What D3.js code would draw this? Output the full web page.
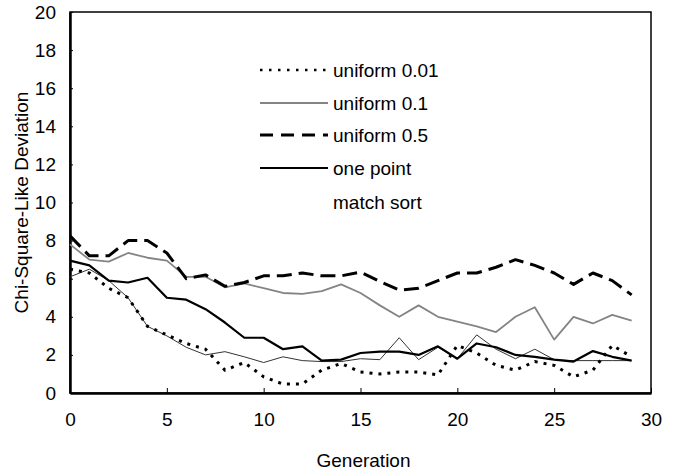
<!DOCTYPE html>
<html>
<head>
<meta charset="utf-8">
<script src="https://cdn.jsdelivr.net/npm/d3@7"></script>
<style>
  html, body { margin: 0; padding: 0; background: #fff; }
  svg { display: block; font-family: "Liberation Sans", Arial, sans-serif; }
</style>
</head>
<body>
<div id="chart"></div>
<script>
const generations = d3.range(0, 30);

const uniform001 = [6.5, 6.3, 5.5, 5.0, 3.5, 3.05, 2.6, 2.3, 1.2, 1.6, 0.85, 0.47, 0.47, 1.2, 1.55,
  1.1, 1.0, 1.1, 1.1, 0.95, 2.5, 2.1, 1.45, 1.2, 1.65, 1.45, 0.85, 1.2, 2.5, 1.9];
const uniform01 = [7.8, 7.0, 6.9, 7.35, 7.1, 6.95, 6.1, 6.1, 5.55, 5.75, 5.5, 5.25, 5.2, 5.35, 5.7,
  5.25, 4.6, 4.0, 4.6, 4.0, 3.75, 3.5, 3.2, 4.0, 4.5, 2.8, 4.0, 3.65, 4.1, 3.8];
const uniform05 = [8.25, 7.2, 7.2, 8.0, 8.0, 7.35, 6.0, 6.2, 5.6, 5.8, 6.15, 6.15, 6.3, 6.15, 6.15,
  6.35, 5.85, 5.4, 5.5, 5.9, 6.3, 6.3, 6.6, 7.0, 6.7, 6.3, 5.7, 6.3, 5.9, 5.15];
const onePoint = [6.95, 6.7, 5.9, 5.8, 6.05, 5.0, 4.9, 4.4, 3.7, 2.9, 2.9, 2.3, 2.45, 1.7, 1.75,
  2.1, 2.17, 2.17, 2.0, 2.45, 1.8, 2.6, 2.4, 2.0, 1.9, 1.75, 1.65, 2.2, 1.9, 1.7];
const matchSort = [6.1, 6.5, 5.9, 5.0, 3.5, 3.0, 2.4, 2.0, 2.17, 1.9, 1.6, 1.9, 1.7, 1.65, 1.65,
  1.8, 1.75, 2.9, 1.75, 2.4, 1.8, 3.05, 2.3, 1.8, 2.3, 1.75, 1.7, 1.7, 1.7, 1.7];

const xTicks = [0, 5, 10, 15, 20, 25, 30];
const yTicks = [0, 2, 4, 6, 8, 10, 12, 14, 16, 18, 20];

const series = [
  { name: 'uniform 0.01', values: uniform001, stroke: '#000', width: 3, dash: '3,6', legendDash: '2.5,6.5', legendWidth: 2.5 },
  { name: 'uniform 0.1', values: uniform01, stroke: '#848484', width: 1.8, dash: null, legendDash: null },
  { name: 'uniform 0.5', values: uniform05, stroke: '#000', width: 3, dash: '15,7', legendDash: '13,8' },
  { name: 'one point', values: onePoint, stroke: '#000', width: 2.2, dash: null, legendDash: null },
  { name: 'match sort', values: matchSort, stroke: '#333', width: 1, dash: null, legendDash: null, noLegendLine: true }
];

const width = 676, height = 473;
const plot = { left: 70, right: 651, top: 12, bottom: 393 };
const fontSize = '19px';

const svg = d3.select('#chart')
  .append('svg')
  .attr('width', width)
  .attr('height', height);

const x = d3.scaleLinear().domain([0, 30]).range([plot.left, plot.right]);
const y = d3.scaleLinear().domain([0, 20]).range([plot.bottom, plot.top]);

// frame
svg.append('rect')
  .attr('x', plot.left)
  .attr('y', plot.top)
  .attr('width', plot.right - plot.left)
  .attr('height', plot.bottom - plot.top)
  .attr('fill', 'none')
  .attr('stroke', '#000')
  .attr('stroke-width', 1.5);

const xAxis = d3.axisBottom(x)
  .tickValues(xTicks)
  .tickSizeInner(-5)
  .tickSizeOuter(0)
  .tickPadding(20)
  .tickFormat(d => d.toString());

const yAxis = d3.axisLeft(y)
  .tickValues(yTicks)
  .tickSizeInner(-3)
  .tickSizeOuter(0)
  .tickPadding(14)
  .tickFormat(d => d.toString());

const gx = svg.append('g')
  .attr('transform', `translate(0, ${plot.bottom})`)
  .call(xAxis);

const gy = svg.append('g')
  .attr('transform', `translate(${plot.left}, 0)`)
  .call(yAxis);

[gx, gy].forEach(g => {
  g.select('.domain').attr('stroke', '#000').attr('stroke-width', 2.5);
  g.selectAll('.tick line').attr('stroke', '#000').attr('stroke-width', 1);
  g.selectAll('.tick text')
    .attr('fill', '#000')
    .style('font-size', fontSize)
    .style('font-family', '"Liberation Sans", Arial, sans-serif');
});

svg.append('text')
  .attr('x', (plot.left + plot.right) / 2 + 3)
  .attr('y', 467)
  .attr('text-anchor', 'middle')
  .style('font-size', fontSize)
  .text('Generation');

svg.append('text')
  .attr('transform', `translate(28, ${(plot.top + plot.bottom) / 2}) rotate(-90)`)
  .attr('text-anchor', 'middle')
  .style('font-size', fontSize)
  .text('Chi-Square-Like Deviation');

const line = d3.line()
  .x((d, i) => x(generations[i]))
  .y(d => y(d));

// thin lines first, thick ones on top
const drawOrder = [4, 1, 0, 3, 2];
drawOrder.forEach(i => {
  const s = series[i];
  svg.append('path')
    .attr('d', line(s.values))
    .attr('fill', 'none')
    .attr('stroke', s.stroke)
    .attr('stroke-width', s.width)
    .attr('stroke-dasharray', s.dash)
    .attr('stroke-linejoin', 'round');
});

// legend
const legendRows = [70, 103, 135, 168, 202];
const legend = svg.append('g');
series.forEach((s, i) => {
  const row = legend.append('g').attr('transform', `translate(0, ${legendRows[i]})`);
  if (!s.noLegendLine) {
    row.append('line')
      .attr('x1', 260)
      .attr('x2', 328)
      .attr('stroke', s.stroke)
      .attr('stroke-width', s.legendWidth || s.width)
      .attr('stroke-dasharray', s.legendDash);
  }
  row.append('text')
    .attr('x', 333)
    .attr('dy', '0.35em')
    .style('font-size', fontSize)
    .text(s.name);
});
</script>
</body>
</html>
